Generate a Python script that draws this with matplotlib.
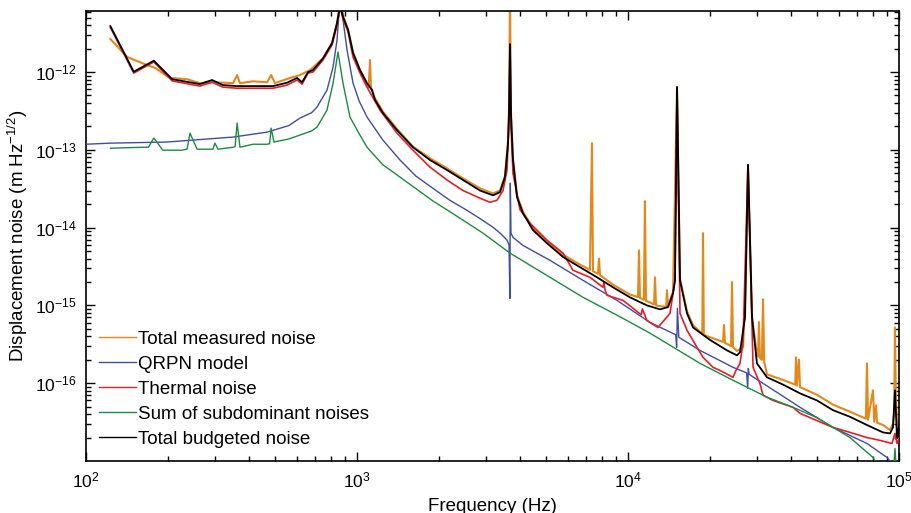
import numpy as np
import matplotlib
matplotlib.use("Agg")
from matplotlib import pyplot as plt

plt.rcParams['font.family'] = ['Liberation Sans', 'DejaVu Sans']
plt.rcParams['mathtext.fontset'] = 'custom'
plt.rcParams['mathtext.rm'] = 'Liberation Sans'
plt.rcParams['mathtext.it'] = 'Liberation Sans:italic'

# total measured noise (Hz, m/rtHz)
meas_f = [123, 142, 168, 180, 204, 236, 263, 294, 349, 361, 370, 413, 466, 482, 498,
          566, 616, 671, 749, 809, 844, 866, 888, 927, 967, 1026, 1089, 1105, 1117, 1126,
          1165, 1247, 1405, 1609, 1859, 2148, 2461, 2844, 3177, 3371, 3517, 3609, 3640,
          3670, 3701, 3764, 3895, 4098, 4461, 5024, 5757, 6652, 7239, 7364, 7427, 7750,
          7817, 7884, 8805, 10170, 10890, 10980, 11070, 11450, 11550, 11650, 12480,
          12580, 12690, 13130, 13830, 13930, 14050, 14660, 15170, 15560, 16510, 17380,
          18800, 18920, 19050, 20080, 22420, 22610, 22800, 24000, 24200, 24410, 25250,
          26600, 26800, 27020, 27730, 28690, 29920, 30200, 30430, 30690, 31200, 31500,
          31800, 32590, 37330, 41400, 41690, 42000, 42760, 43130, 49830, 57080, 65960,
          75500, 76180, 76900, 80200, 81000, 82260, 83000, 87300, 92640, 95040, 96000,
          96650, 97400, 99150, 100000]
meas_v = [2.66e-12, 1.56e-12, 1.23e-12, 1.13e-12, 8.4e-13, 8.1e-13, 7.2e-13, 7.4e-13,
          7.2e-13, 9.15e-13, 7.2e-13, 7.6e-13, 7.4e-13, 9.15e-13, 7.2e-13,
          8.4e-13, 9.15e-13, 1.06e-12, 1.5e-12, 2.36e-12, 4.27e-12, 8e-12, 5.4e-12,
          3.5e-12, 1.8e-12, 1.06e-12, 7.0e-13, 6.4e-13, 1.43e-12, 6.4e-13,
          4.6e-13, 3.1e-13, 1.85e-13, 1.1e-13, 7.8e-14, 5.8e-14, 4.3e-14, 3.2e-14,
          2.75e-14, 3.0e-14, 4.6e-14, 1.33e-13, 3.4e-13,
          1e-11, 3.0e-13, 7.8e-14, 2.6e-14, 1.6e-14, 9.8e-15, 6.7e-15, 4.5e-15,
          3.35e-15, 2.85e-15, 1.22e-13, 2.75e-15, 2.55e-15,
          4.0e-15, 2.45e-15, 1.85e-15, 1.38e-15, 1.28e-15, 5.1e-15, 1.25e-15, 1.18e-15,
          2.19e-14, 1.15e-15, 1.03e-15,
          2.3e-15, 1.0e-15, 9.8e-16, 9.6e-16, 1.56e-15, 9.8e-16, 1.5e-15, 6.4e-13,
          2.2e-15, 8.4e-16, 5.6e-16,
          4.3e-16, 8.5e-15, 4.2e-16, 3.9e-16, 3.4e-16, 5.6e-16, 3.3e-16, 3.0e-16,
          2.0e-15, 2.9e-16, 2.6e-16,
          2.9e-16, 5.9e-16, 7.2e-16, 6.4e-14, 7.2e-16, 2.3e-16, 2.2e-16, 6.1e-16,
          2.1e-16, 2.0e-16, 1.2e-15,
          1.9e-16, 1.3e-16, 1.1e-16, 9.6e-17, 2.15e-16, 9.3e-17, 2.0e-16, 8.9e-17,
          7.1e-17, 5.3e-17, 4.3e-17,
          3.5e-17, 1.8e-16, 3.4e-17, 8.1e-17, 3.2e-17, 5.2e-17, 3.1e-17, 2.9e-17,
          2.5e-17, 3.0e-17, 4.0e-17,
          5.2e-16, 6.0e-17, 2.1e-17, 3.3e-17]

# QRPN model
qrpn_f = [100, 123, 199, 349, 466, 560, 616, 680, 712, 775, 816, 844, 858, 873, 888,
          919, 967, 1020, 1089, 1247, 1441, 1650, 1907, 2200, 2546, 2850, 3177, 3400,
          3578, 3640, 3665, 3680, 3700, 3764, 4098, 5154, 6824, 9107, 12050, 15000,
          15120, 15220, 15400, 18440, 24410, 27400, 27650, 27800, 28000, 43130, 57080,
          76180, 90300, 92640, 100000]
qrpn_v = [1.18e-13, 1.22e-13, 1.26e-13, 1.46e-13, 1.69e-13, 2.05e-13, 2.56e-13,
          3.0e-13, 3.55e-13, 5.86e-13, 1.16e-12, 2.58e-12, 5.7e-12, 1.2e-11, 4.67e-12,
          1.92e-12, 7.2e-13, 4.2e-13, 2.64e-13, 1.33e-13, 7.4e-14, 4.6e-14, 3.2e-14,
          2.25e-14, 1.67e-14, 1.3e-14, 1.01e-14, 8.3e-15,
          6.9e-15, 6.0e-15, 1.23e-15, 3.73e-14, 8.5e-15, 7.5e-15, 5.9e-15, 3.8e-15,
          2.1e-15, 1.16e-15, 6.05e-16, 4.2e-16,
          2.9e-16, 9.2e-16, 3.9e-16, 2.64e-16, 1.6e-16, 1.36e-16, 8.6e-17, 1.55e-16,
          1.3e-16, 4.9e-17, 2.7e-17,
          1.68e-17, 1.11e-17, 1.0e-17, 8.9e-18]

# thermal noise
therm_f = [123, 150, 178, 208, 263, 292, 320, 361, 490, 552, 601, 627, 660, 688, 749,
           809, 844, 866, 888, 927, 967, 1026, 1089, 1216, 1405, 1609, 1859, 2148,
           2461, 2844, 3096, 3286, 3458, 3578, 3640, 3670, 3701, 3764, 3995, 4349, 5024,
           5757, 6266, 7239, 8086, 8155, 8220, 8366, 9583, 9915, 10890, 11200, 11300,
           11750, 12900, 14290, 14910, 15170, 15560, 16510, 17970, 18920, 20590, 21850,
           24410, 25030, 25900, 26570, 27730, 28940, 30690, 31500, 34290, 40630, 43130,
           49830, 57080, 65960, 76180, 85100, 94240, 96650, 98310, 100000]
therm_v = [3.75e-12, 9.7e-13, 1.35e-12, 7.7e-13, 6.6e-13, 7.4e-13, 6.4e-13, 6.2e-13,
           6.2e-13, 6.8e-13, 7.9e-13, 7.0e-13, 9.7e-13, 1.0e-12, 1.43e-12,
           2.23e-12, 4.0e-12, 7e-12, 4.8e-12, 3.3e-12, 1.56e-12, 9.7e-13, 6.4e-13,
           3.24e-13, 1.64e-13, 9.9e-14, 6.0e-14, 4.1e-14,
           3.0e-14, 2.39e-14, 2.12e-14, 2.25e-14, 3.0e-14, 5.5e-14, 2.4e-13, 2.2e-12,
           2.0e-13, 5.0e-14, 1.7e-14, 1.14e-14, 6.9e-15,
           4.7e-15, 2.83e-15, 2.3e-15, 1.71e-15, 2.0e-15, 1.6e-15, 1.35e-15, 1.16e-15,
           1.06e-15, 8.15e-16, 7.6e-16, 9.0e-16,
           6.4e-16, 5.2e-16, 7.9e-16, 2.1e-15, 6.4e-13, 7.9e-16, 4.8e-16, 2.9e-16,
           2.15e-16, 1.6e-16, 1.46e-16,
           1.19e-16, 1.46e-16, 1.8e-16, 3.25e-16, 6.4e-14, 1.6e-16, 9.9e-17, 7.0e-17,
           6.0e-17, 4.9e-17, 4.1e-17,
           3.3e-17, 2.7e-17, 2.33e-17, 2.0e-17, 1.84e-17, 1.68e-17, 2.26e-17, 1.68e-17,
           1.95e-17]

# sum of subdominant noises
sub_f = [123, 162, 170, 178, 192, 226, 236, 242, 257, 294, 299, 307, 349, 355, 361,
         370, 413, 466, 476, 482, 494, 560, 616, 680, 712, 775, 816, 851, 888, 942,
         1020, 1089, 1247, 1358, 1441, 1665, 1907, 2204, 2917, 3670, 5154, 6824, 9107,
         12050, 18440, 24410, 32590, 40630, 49830, 65960, 80200, 82260, 95800, 96650,
         97500]
sub_v = [1.05e-13, 1.08e-13, 1.08e-13, 1.42e-13, 9.9e-14, 9.9e-14, 1.02e-13, 1.64e-13,
         1.02e-13, 1.02e-13, 1.22e-13, 1.02e-13, 1.08e-13, 1.1e-13, 2.21e-13,
         1.08e-13, 1.18e-13, 1.18e-13, 1.2e-13, 1.9e-13, 1.26e-13, 1.38e-13, 1.55e-13,
         1.75e-13, 1.96e-13, 3.24e-13, 7.2e-13, 1.81e-12, 7.2e-13, 2.64e-13,
         1.6e-13, 1.08e-13, 6.4e-14, 5.2e-14, 4.46e-14, 3.1e-14, 2.2e-14, 1.6e-14,
         8.5e-15, 4.7e-15, 2.3e-15, 1.27e-15, 7.5e-16,
         4.4e-16, 1.8e-16, 1.09e-16, 6.6e-17, 4.9e-17, 3.6e-17, 2.0e-17, 1.11e-17,
         9.5e-18, 9e-18, 1.45e-17, 9e-18]

# total budgeted noise
budget_f = [123, 150, 178, 208, 263, 292, 320, 361, 490, 552, 601, 627, 660, 688, 749,
            809, 844, 866, 888, 927, 967, 1026, 1089, 1136, 1165, 1247, 1405, 1609,
            1859, 2148, 2461, 2844, 3177, 3371, 3517, 3609, 3640, 3670, 3701, 3764,
            3895, 4098, 4461, 5024, 5757, 6652, 7685, 8805, 10170, 11750, 13130, 14050,
            14660, 14910, 15170, 15560, 16510, 17380, 20080, 23200, 25250, 25900, 27020,
            27730, 28690, 29920, 32590, 37330, 43130, 49830, 57080, 65960, 76180, 87300,
            92640, 95040, 96650, 98310, 100000]
budget_v = [3.9e-12, 1.01e-12, 1.4e-12, 8.1e-13, 7.0e-13, 7.9e-13, 6.8e-13, 6.6e-13,
            6.6e-13, 7.3e-13, 8.4e-13, 7.4e-13, 1.0e-12, 1.06e-12, 1.5e-12,
            2.36e-12, 4.27e-12, 7e-12, 5.1e-12, 3.5e-12, 1.76e-12, 1.06e-12, 7.2e-13,
            5.86e-13, 4.4e-13, 2.97e-13, 1.79e-13, 1.08e-13,
            7.4e-14, 5.5e-14, 4.1e-14, 3.0e-14, 2.6e-14, 2.86e-14, 4.5e-14, 1.22e-13,
            3.2e-13, 2.29e-12, 2.8e-13, 7.4e-14,
            2.46e-14, 1.53e-14, 9.3e-15, 6.3e-15, 4.2e-15, 3.1e-15, 2.3e-15, 1.71e-15,
            1.27e-15, 1.0e-15, 8.9e-16, 9.5e-16,
            1.43e-15, 2.1e-15, 6.4e-13, 2.1e-15, 7.9e-16, 5.2e-16, 3.6e-16, 2.64e-16,
            2.28e-16, 2.5e-16, 7.0e-16,
            6.4e-14, 7.0e-16, 1.8e-16, 1.19e-16, 9.6e-17, 7.4e-17, 6.0e-17, 4.5e-17,
            3.7e-17, 2.9e-17, 2.33e-17,
            2.26e-17, 2.7e-17, 8.1e-17, 2.0e-17, 2.8e-17]

fig = plt.figure(figsize=(9.11, 5.13), dpi=100)
ax = fig.add_axes([0.0944, 0.1014, 0.8924, 0.8772])

ax.loglog(meas_f, meas_v, color='#E3881B', lw=1.5, label='Total measured noise', zorder=2)
ax.loglog(qrpn_f, qrpn_v, color='#3F4DA3', lw=1.0, label='QRPN model', zorder=3)
ax.loglog(therm_f, therm_v, color='#E3202A', lw=1.2, label='Thermal noise', zorder=3)
ax.loglog(sub_f, sub_v, color='#1F8A3F', lw=1.0, label='Sum of subdominant noises', zorder=3)
ax.loglog(budget_f, budget_v, color='black', lw=1.3, label='Total budgeted noise', zorder=4)

ax.set_xlim(100, 1e5)
ax.set_ylim(1e-17, 6.1e-12)
ax.set_yticks([1e-16, 1e-15, 1e-14, 1e-13, 1e-12])

ax.tick_params(which='both', direction='in', top=True, right=True, labelsize=12.5, width=1)
ax.tick_params(which='major', length=6.5, pad=7)
ax.tick_params(which='minor', length=3.6)
for s in ax.spines.values():
    s.set_linewidth(1.2)

ax.set_xlabel('Frequency (Hz)', fontsize=13.5, labelpad=5)
ax.set_ylabel('Displacement noise (m Hz$^{-1/2}$)', fontsize=13.5, labelpad=3)

leg = ax.legend(loc='lower left', frameon=False, fontsize=13.5, handlelength=1.95,
                handletextpad=0.15, labelspacing=0.42, borderaxespad=0.3,
                bbox_to_anchor=(0.0, 0.0))
for h in leg.get_lines():
    h.set_linewidth(1.0)

fig.savefig('out.png', dpi=100)
